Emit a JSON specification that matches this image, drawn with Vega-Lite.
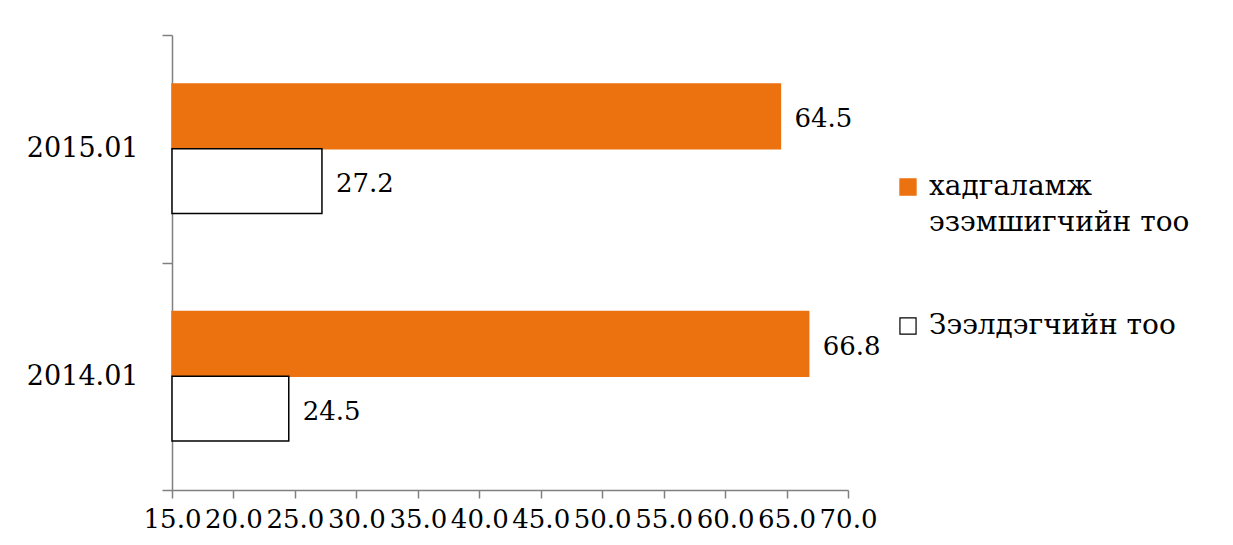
{
  "$schema": "https://vega.github.io/schema/vega-lite/v6.json",
  "autosize": "none",
  "width": 676,
  "height": 455,
  "padding": {"left": 172, "top": 35, "right": 385, "bottom": 55},
  "background": "white",
  "config": {
    "font": "DejaVu Serif",
    "view": {"stroke": null},
    "axis": {"domainColor": "#808080", "tickColor": "#808080", "grid": false, "labelColor": "black", "labelFont": "DejaVu Serif", "title": null},
    "legend": {"labelFont": "DejaVu Serif"},
    "text": {"font": "DejaVu Serif"}
  },
  "data": {
    "values": [
      {"period": "2015.01", "series": "хадгаламж эзэмшигчийн тоо", "value": 64.5},
      {"period": "2015.01", "series": "Зээлдэгчийн тоо", "value": 27.2},
      {"period": "2014.01", "series": "хадгаламж эзэмшигчийн тоо", "value": 66.8},
      {"period": "2014.01", "series": "Зээлдэгчийн тоо", "value": 24.5}
    ]
  },
  "encoding": {
    "y": {
      "field": "period",
      "type": "nominal",
      "sort": ["2015.01", "2014.01"],
      "scale": {"paddingInner": 0, "paddingOuter": 0},
      "axis": {
        "labelFontSize": 27,
        "labelPadding": 24,
        "tickSize": 10,
        "tickBand": "extent",
        "domainWidth": 1.5,
        "tickWidth": 1.5
      }
    },
    "yOffset": {
      "field": "series",
      "type": "nominal",
      "sort": ["хадгаламж эзэмшигчийн тоо", "Зээлдэгчийн тоо"],
      "scale": {"paddingInner": 0, "paddingOuter": 0.754}
    }
  },
  "layer": [
    {
      "mark": {"type": "bar", "strokeWidth": 1.5},
      "encoding": {
        "x": {
          "field": "value",
          "type": "quantitative",
          "scale": {"domain": [15, 70], "zero": false, "nice": false},
          "axis": {
            "values": [15, 20, 25, 30, 35, 40, 45, 50, 55, 60, 65, 70],
            "format": ".1f",
            "labelFontSize": 26,
            "labelFlush": false,
            "labelOverlap": false,
            "labelPadding": 8,
            "tickSize": 8,
            "domainWidth": 1.5,
            "tickWidth": 1.5
          }
        },
        "x2": {"datum": 15},
        "fill": {
          "field": "series",
          "type": "nominal",
          "sort": ["хадгаламж эзэмшигчийн тоо", "Зээлдэгчийн тоо"],
          "scale": {"range": ["#EC7210", "#FFFFFF"]},
          "legend": {
            "title": null,
            "orient": "none",
            "legendX": 722,
            "legendY": 138,
            "symbolType": "square",
            "symbolSize": 260,
            "symbolStrokeWidth": 1.2,
            "labelFontSize": 28,
            "labelLimit": 400,
            "labelOffset": 7,
            "rowPadding": 75,
            "labelExpr": "datum.label == 'хадгаламж эзэмшигчийн тоо' ? ['хадгаламж', 'эзэмшигчийн тоо'] : datum.label",
            "encode": {
              "symbols": {
                "update": {
                  "stroke": [
                    {"test": "datum.value == 'Зээлдэгчийн тоо'", "value": "#000000"},
                    {"value": "#EC7210"}
                  ]
                }
              },
              "labels": {
                "update": {"lineHeight": {"value": 36}}
              }
            }
          }
        },
        "stroke": {
          "field": "series",
          "type": "nominal",
          "sort": ["хадгаламж эзэмшигчийн тоо", "Зээлдэгчийн тоо"],
          "scale": {"range": ["#EC7210", "#000000"]},
          "legend": null
        }
      }
    },
    {
      "mark": {"type": "text", "align": "left", "dx": 14, "dy": 3, "fontSize": 26, "color": "black", "font": "DejaVu Serif"},
      "encoding": {
        "x": {"field": "value", "type": "quantitative"},
        "text": {"field": "value", "type": "quantitative", "format": ".1f"}
      }
    }
  ]
}
